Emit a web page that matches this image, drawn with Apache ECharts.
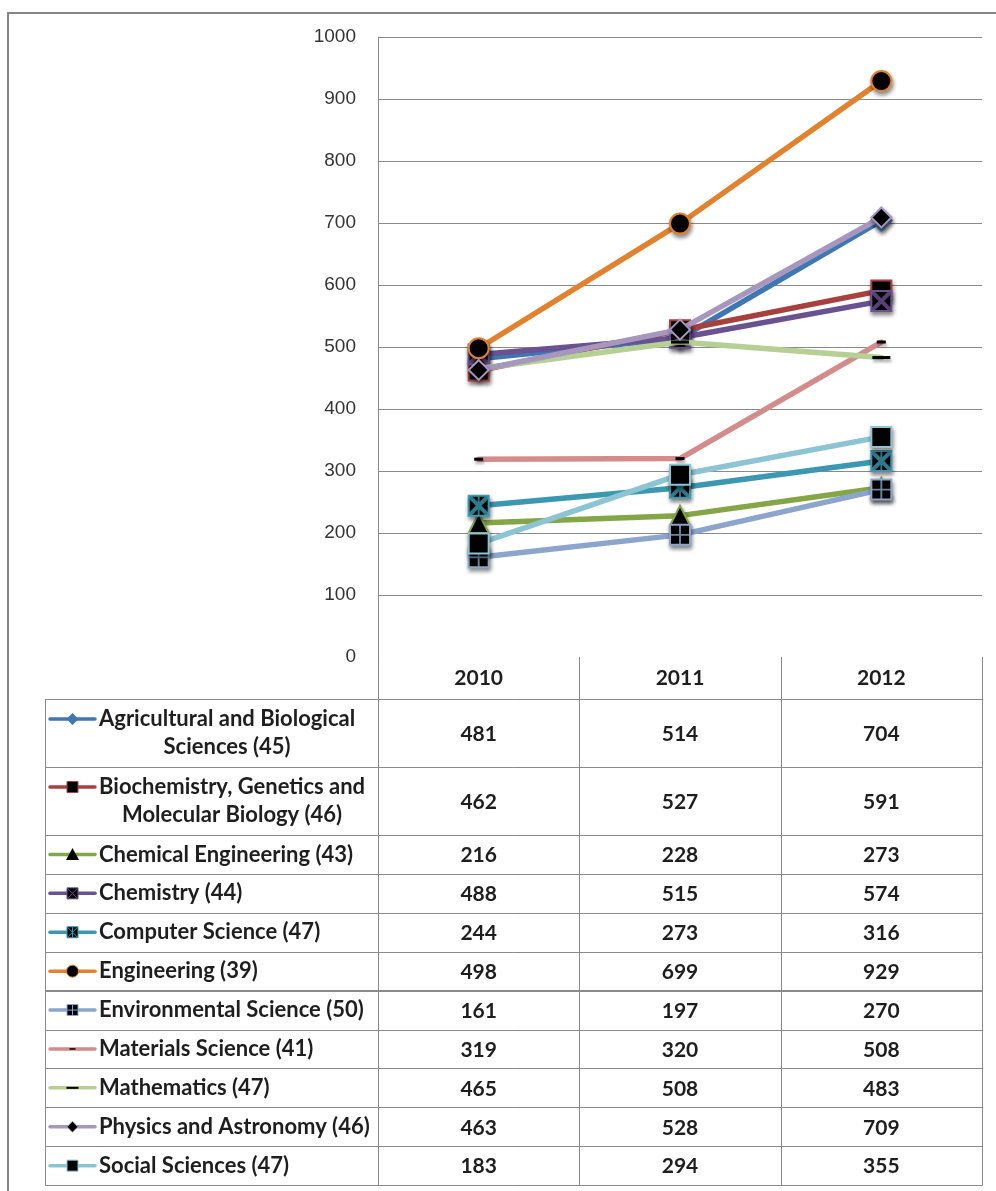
<!DOCTYPE html>
<html>
<head>
<meta charset="utf-8">
<script src="https://cdn.jsdelivr.net/npm/echarts@6/dist/echarts.min.js"></script>
<style>
  html, body { margin: 0; padding: 0; background: #ffffff; }
  #chart { width: 996px; height: 1191px; }
</style>
</head>
<body>
<div id="chart"></div>
<script>
// ---- data ----
const years = ['2010', '2011', '2012'];
const subjects = [
  'Agricultural and Biological\nSciences (45)',
  'Biochemistry, Genetics and\nMolecular Biology (46)',
  'Chemical Engineering (43)',
  'Chemistry (44)',
  'Computer Science (47)',
  'Engineering (39)',
  'Environmental Science (50)',
  'Materials Science (41)',
  'Mathematics (47)',
  'Physics and Astronomy (46)',
  'Social Sciences (47)'
];
const agricultural  = [481, 514, 704];
const biochemistry  = [462, 527, 591];
const chemicalEng   = [216, 228, 273];
const chemistry     = [488, 515, 574];
const computerSci   = [244, 273, 316];
const engineering   = [498, 699, 929];
const environmental = [161, 197, 270];
const materials     = [319, 320, 508];
const mathematics   = [465, 508, 483];
const physics       = [463, 528, 709];
const socialSci     = [183, 294, 355];
const yMin = 0, yMax = 1000, yStep = 100;

const seriesValues = [agricultural, biochemistry, chemicalEng, chemistry, computerSci,
  engineering, environmental, materials, mathematics, physics, socialSci];

// ---- look of each series: line colour, marker shape, marker overlay glyph ----
const looks = [
  { color: '#3F77B3', symbol: 'diamond',  size: 20, fill: '#3F77B3', icon: 'diamondColor' },
  { color: '#A8413E', symbol: 'rect',     size: 20, fill: '#000',    icon: 'square' },
  { color: '#84A647', symbol: 'triangle', size: 20, fill: '#000',    icon: 'triangle' },
  { color: '#6A5190', symbol: 'rect',     size: 20, fill: '#000',    icon: 'square', glyph: 'x' },
  { color: '#3C98B1', symbol: 'rect',     size: 20, fill: '#000',    icon: 'square', glyph: 'asterisk' },
  { color: '#E2822F', symbol: 'circle',   size: 20, fill: '#000',    icon: 'circle' },
  { color: '#8CA5CD', symbol: 'rect',     size: 20, fill: '#000',    icon: 'square', glyph: 'plus' },
  { color: '#D48C8B', symbol: 'rect',     size: [9, 3],  fill: '#000', icon: 'dashShort', plain: true },
  { color: '#B5CF94', symbol: 'rect',     size: [18, 3], fill: '#000', icon: 'dashLong', plain: true },
  { color: '#A797BF', symbol: 'diamond',  size: 20, fill: '#000',    icon: 'diamond' },
  { color: '#8CC4D4', symbol: 'rect',     size: 20, fill: '#000',    icon: 'square' }
];

const glyphPaths = {
  x: 'path://M0,0L3,0L10,7L17,0L20,0L20,3L13,10L20,17L20,20L17,20L10,13L3,20L0,20L0,17L7,10L0,3Z',
  plus: 'path://M9,0L11,0L11,9L20,9L20,11L11,11L11,20L9,20L9,11L0,11L0,9L9,9Z',
  asterisk: 'path://M0,0L3,0L10,7L17,0L20,0L20,3L13,10L20,17L20,20L17,20L10,13L3,20L0,20L0,17L7,10L0,3Z' +
            'M9,0L11,0L11,20L9,20Z'
};

const GRID_COLOR = '#8a8a8a';
const TEXT_COLOR = '#1e1e1e';
const LABEL_FONT = 'bold 22px Lato';
const VALUE_FONT = 'bold 21px Lato';

const chart = echarts.init(document.getElementById('chart'), null, { renderer: 'canvas', width: 996, height: 1191 });

// ---- series: one line per subject, plus an overlay for the crossed markers ----
// each subject gets its own z band so later subjects paint over earlier ones
const series = [];
seriesValues.forEach((vals, i) => {
  const lk = looks[i];
  const zBase = 10 + i * 2;
  series.push({
    type: 'line',
    name: subjects[i],
    data: vals,
    z: zBase,
    symbol: lk.symbol,
    symbolSize: lk.size,
    showAllSymbol: true,
    lineStyle: { color: lk.color, width: 5.5, cap: 'round', join: 'round' },
    itemStyle: lk.plain
      ? { color: lk.fill, borderWidth: 0, shadowColor: 'rgba(0,0,0,0.35)', shadowBlur: 3, shadowOffsetX: 1, shadowOffsetY: 3 }
      : { color: lk.fill, borderColor: lk.color, borderWidth: 2,
          shadowColor: 'rgba(0,0,0,0.45)', shadowBlur: 4, shadowOffsetX: 1, shadowOffsetY: 3 },
    emphasis: { disabled: true },
    silent: true,
    animation: false
  });
  if (lk.glyph) {
    series.push({
      type: 'scatter',
      data: vals,
      z: zBase + 1,
      symbol: glyphPaths[lk.glyph],
      symbolSize: 19,
      itemStyle: { color: lk.color },
      emphasis: { disabled: true },
      silent: true,
      animation: false
    });
  }
});

// hide the split line at the zero tick (the data table sits there)
const splitColors = [];
for (let v = yMin; v <= yMax; v += yStep) splitColors.push(v === yMin ? 'rgba(0,0,0,0)' : GRID_COLOR);

chart.setOption({
  backgroundColor: '#ffffff',
  animation: false,
  grid: { left: 378, right: 14, top: 37, bottom: 534, containLabel: false },
  xAxis: {
    type: 'category',
    data: years,
    boundaryGap: true,
    axisLine: { show: false },
    axisTick: { show: false },
    axisLabel: { show: false },
    splitLine: { show: false }
  },
  yAxis: {
    type: 'value',
    min: yMin, max: yMax, interval: yStep,
    axisLine: { show: true, lineStyle: { color: GRID_COLOR, width: 1 } },
    axisTick: { show: false },
    axisLabel: { color: '#333', fontFamily: 'Liberation Sans', fontSize: 19, margin: 22,
                 formatter: v => String(v) },
    splitLine: { show: true, lineStyle: { color: splitColors, width: 1 } }
  },
  series: series
});

// ---- data table drawn under the plot, aligned to the category axis ----
function buildTable() {
  const centers = years.map(y => chart.convertToPixel({ xAxisIndex: 0 }, y));
  const band = centers[1] - centers[0];
  const colLeft = centers[0] - band / 2;
  const colRight = centers[centers.length - 1] + band / 2;
  const top = chart.convertToPixel({ yAxisIndex: 0 }, yMin);

  const tableLeft = 45;
  const headerH = 42;
  const lineH = 28;
  const singleRowH = 38.9;
  const doubleRowH = 68;

  const measure = document.createElement('canvas').getContext('2d');
  measure.font = LABEL_FONT;

  const els = [];
  const px = v => Math.round(v) + 0.5;

  // outer frame
  els.push({ type: 'rect', shape: { x: 8, y: 13, width: 1010, height: 1200 },
    style: { fill: 'none', stroke: '#858585', lineWidth: 2 }, z: 0, silent: true });

  // row boundaries
  const rowTops = [];
  let y = top + headerH;
  subjects.forEach(s => {
    rowTops.push(y);
    y += s.indexOf('\n') >= 0 ? doubleRowH : singleRowH;
  });
  const bottom = y;

  // vertical rules
  els.push({ type: 'line', shape: { x1: px(colLeft), y1: top, x2: px(colLeft), y2: bottom },
    style: { stroke: GRID_COLOR, lineWidth: 1 }, silent: true });
  for (let i = 1; i <= years.length; i++) {
    const x = px(colLeft + band * i);
    els.push({ type: 'line', shape: { x1: x, y1: top, x2: x, y2: bottom },
      style: { stroke: GRID_COLOR, lineWidth: 1 }, silent: true });
  }
  els.push({ type: 'line', shape: { x1: px(tableLeft), y1: top + headerH, x2: px(tableLeft), y2: bottom },
    style: { stroke: GRID_COLOR, lineWidth: 1 }, silent: true });

  // horizontal rules
  const hLines = rowTops.concat([bottom]);
  hLines.forEach((hy, k) => {
    const thick = k === 6;
    const yy = thick ? Math.round(hy) : px(hy);
    els.push({ type: 'line', shape: { x1: tableLeft, y1: yy, x2: colRight + 0.5, y2: yy },
      style: { stroke: GRID_COLOR, lineWidth: thick ? 2 : 1 }, silent: true });
  });

  // header: years
  years.forEach((yr, i) => {
    els.push({ type: 'text', x: centers[i], y: top + headerH / 2, silent: true,
      style: { text: yr, font: VALUE_FONT, fill: TEXT_COLOR, align: 'center', verticalAlign: 'middle' } });
  });

  // rows
  subjects.forEach((name, r) => {
    const lk = looks[r];
    const isDouble = name.indexOf('\n') >= 0;
    const h = isDouble ? doubleRowH : singleRowH;
    const rowMid = rowTops[r] + h / 2;

    // values
    seriesValues[r].forEach((v, i) => {
      els.push({ type: 'text', x: centers[i], y: rowMid + 1, silent: true,
        style: { text: String(v), font: VALUE_FONT, fill: TEXT_COLOR, align: 'center', verticalAlign: 'middle' } });
    });

    // label (multi-line labels are centred as a block)
    const lines = name.split('\n');
    const blockW = Math.max.apply(null, lines.map(l => measure.measureText(l).width));
    const textLeft = 99;
    els.push({ type: 'text', x: textLeft + blockW / 2, y: rowMid, silent: true,
      style: { text: name, font: LABEL_FONT, fill: TEXT_COLOR, align: 'center', verticalAlign: 'middle', lineHeight: lineH } });

    // key: short line with the marker
    const iy = isDouble ? rowMid - lineH / 2 : rowMid;
    const ix = 72.5;
    els.push({ type: 'line', shape: { x1: 50, y1: iy, x2: 95, y2: iy },
      style: { stroke: lk.color, lineWidth: 3.5, lineCap: 'round' }, silent: true });
    const s = 5.5;
    switch (lk.icon) {
      case 'diamondColor':
        els.push({ type: 'polygon', shape: { points: [[ix, iy - s - 0.5], [ix + s + 0.5, iy], [ix, iy + s + 0.5], [ix - s - 0.5, iy]] },
          style: { fill: lk.color }, silent: true });
        break;
      case 'diamond':
        els.push({ type: 'polygon', shape: { points: [[ix, iy - s], [ix + s, iy], [ix, iy + s], [ix - s, iy]] },
          style: { fill: '#000', stroke: lk.color, lineWidth: 1 }, silent: true });
        break;
      case 'square':
        els.push({ type: 'rect', shape: { x: ix - s, y: iy - s, width: 2 * s, height: 2 * s },
          style: { fill: '#000', stroke: lk.color, lineWidth: 1 }, silent: true });
        break;
      case 'triangle':
        els.push({ type: 'polygon', shape: { points: [[ix, iy - s - 1], [ix + s + 1, iy + s], [ix - s - 1, iy + s]] },
          style: { fill: '#000' }, silent: true });
        break;
      case 'circle':
        els.push({ type: 'circle', shape: { cx: ix, cy: iy, r: s + 0.5 },
          style: { fill: '#000', stroke: lk.color, lineWidth: 1 }, silent: true });
        break;
      case 'dashShort':
        els.push({ type: 'rect', shape: { x: ix - 3, y: iy - 0.75, width: 6, height: 1.5 },
          style: { fill: '#000' }, silent: true });
        break;
      case 'dashLong':
        els.push({ type: 'rect', shape: { x: ix - 6, y: iy - 1, width: 12, height: 2 },
          style: { fill: '#000' }, silent: true });
        break;
    }
    if (lk.glyph) {
      const g = s - 0.5;
      const seg = (x1, y1, x2, y2) => els.push({ type: 'line', shape: { x1, y1, x2, y2 },
        style: { stroke: lk.color, lineWidth: 1 }, silent: true });
      if (lk.glyph === 'x' || lk.glyph === 'asterisk') {
        seg(ix - g, iy - g, ix + g, iy + g);
        seg(ix - g, iy + g, ix + g, iy - g);
      }
      if (lk.glyph === 'asterisk') seg(ix, iy - g, ix, iy + g);
      if (lk.glyph === 'plus') {
        seg(ix, iy - g, ix, iy + g);
        seg(ix - g, iy, ix + g, iy);
      }
    }
  });

  chart.setOption({ graphic: { elements: els } });
}

buildTable();
</script>
</body>
</html>
